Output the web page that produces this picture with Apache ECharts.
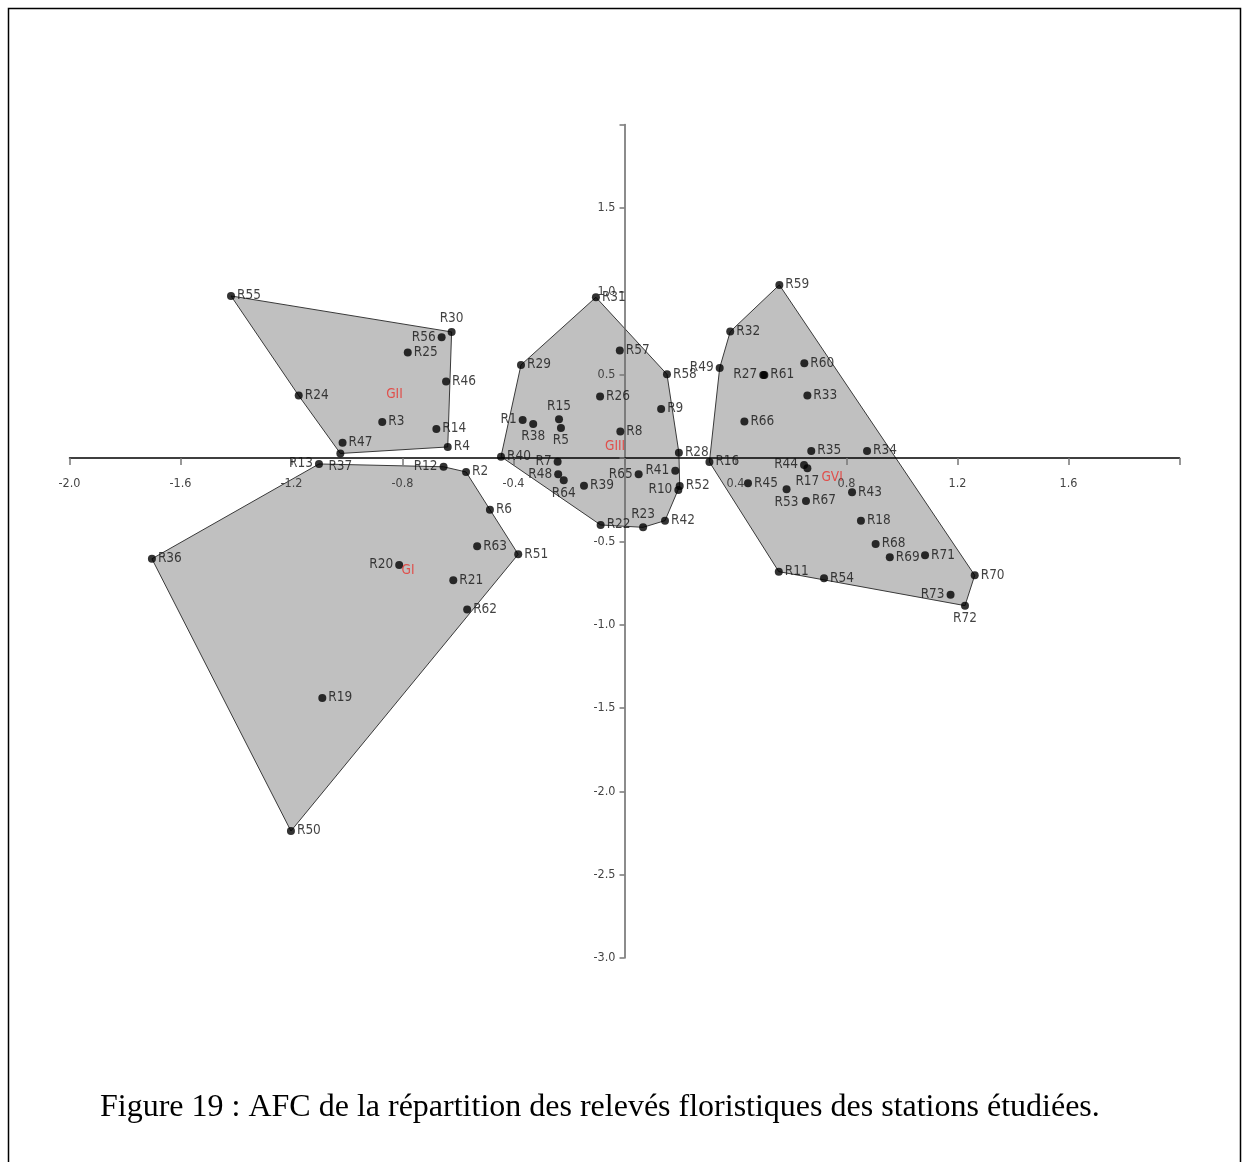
<!DOCTYPE html>
<html>
<head>
<meta charset="utf-8">
<script src="https://cdn.jsdelivr.net/npm/echarts@6/dist/echarts.min.js"></script>
<style>
html,body{margin:0;padding:0;background:#fff;}
#chart{width:1248px;height:1162px;}
</style>
</head>
<body>
<div id="chart"></div>
<script>
// ---------- DATA ----------
// Group I
const gINames = ['R13','R12','R2','R6','R63','R51','R20','R21','R62','R36','R19','R50'];
const gIX = [-1.101,-0.652,-0.571,-0.485,-0.531,-0.383,-0.812,-0.617,-0.567,-1.703,-1.089,-1.202];
const gIY = [-0.036,-0.053,-0.084,-0.310,-0.530,-0.578,-0.642,-0.734,-0.909,-0.605,-1.440,-2.238];
const gIHull = ['R13','R12','R2','R6','R51','R50','R36'];

// Group II
const gIINames = ['R55','R30','R56','R25','R46','R24','R3','R14','R4','R47','R37'];
const gIIX = [-1.418,-0.623,-0.659,-0.781,-0.643,-1.174,-0.873,-0.678,-0.637,-1.016,-1.024];
const gIIY = [0.972,0.756,0.724,0.632,0.458,0.374,0.216,0.174,0.066,0.092,0.027];
const gIIHull = ['R55','R30','R4','R37','R24'];

// Group III
const gIIINames = ['R31','R57','R29','R58','R26','R9','R1','R38','R15','R5','R8','R40','R28','R7','R48','R64','R39','R65','R41','R10','R52','R42','R23','R22'];
const gIIIX = [-0.103,-0.017,-0.373,0.153,-0.088,0.132,-0.367,-0.329,-0.236,-0.229,-0.015,-0.445,0.196,-0.241,-0.239,-0.219,-0.146,0.051,0.183,0.194,0.199,0.146,0.067,-0.086];
const gIIIY = [0.964,0.644,0.558,0.502,0.368,0.294,0.228,0.204,0.232,0.180,0.158,0.008,0.032,-0.022,-0.098,-0.134,-0.166,-0.098,-0.076,-0.192,-0.168,-0.376,-0.416,-0.402];
const gIIIHull = ['R31','R58','R28','R52','R42','R23','R22','R40','R29'];

// Group VI
const gVINames = ['R59','R32','R49','R27','R61','R60','R33','R66','R35','R34','R16','R44','R17','R45','R53','R67','R43','R18','R68','R69','R71','R70','R11','R54','R73','R72'];
const gVIX = [0.558,0.381,0.343,0.500,0.504,0.648,0.659,0.432,0.673,0.874,0.306,0.647,0.659,0.445,0.584,0.654,0.820,0.852,0.905,0.956,1.083,1.262,0.556,0.719,1.175,1.227];
const gVIY = [1.038,0.758,0.540,0.498,0.498,0.568,0.374,0.218,0.042,0.042,-0.024,-0.042,-0.062,-0.152,-0.188,-0.258,-0.206,-0.376,-0.516,-0.596,-0.584,-0.704,-0.682,-0.722,-0.820,-0.886];
const gVIHull = ['R59','R70','R72','R11','R16','R49','R32'];

// Group labels
const groupLabelNames = ['GI','GII','GIII','GVI'];
const groupLabelX = [-0.780,-0.829,-0.034,0.748];
const groupLabelY = [-0.678,0.378,0.066,-0.120];

// Axis ranges / ticks
const xMin = -2.0, xMax = 2.0, xStep = 0.4;
const yMin = -3.0, yMax = 2.0, yStep = 0.5;

const caption = 'Figure 19 : AFC de la répartition des relevés floristiques des stations étudiées.';

// ---------- STYLE ----------
const W = 1248, H = 1162;
const G = {left:69.5, right:68.5, top:124.6, bottom:204};
const narrow = "'Liberation Sans Narrow','DejaVu Sans Condensed',sans-serif";
// axes cross at zero: offsets derived from the grid box and the axis ranges
const gridW = W - G.left - G.right, gridH = H - G.top - G.bottom;
const xAxisOffset = -gridH * (0 - yMin) / (yMax - yMin);
const yAxisOffset = -gridW * (0 - xMin) / (xMax - xMin);

// label placement overrides (style only)
const labelPlacement = {
  R30:{position:'top', offset:[-12,2]},
  R56:{position:'left', offset:[0,1]},
  R13:{position:'left', offset:[0,1]},
  R12:{position:'left', offset:[0,0]},
  R20:{position:'left', offset:[0,-2]},
  R1:{position:'left', offset:[0,0]},
  R38:{position:'bottom', offset:[-12,0]},
  R15:{position:'top', offset:[-9,0]},
  R5:{position:'bottom', offset:[6,0]},
  R7:{position:'left', offset:[0,0]},
  R48:{position:'left', offset:[0,2]},
  R64:{position:'bottom', offset:[-10,-1]},
  R65:{position:'left', offset:[0,1]},
  R41:{position:'left', offset:[0,0]},
  R10:{position:'left', offset:[0,3]},
  R23:{position:'top', offset:[-12,1]},
  R49:{position:'left', offset:[0,0]},
  R27:{position:'left', offset:[0,0]},
  R44:{position:'left', offset:[0,0]},
  R17:{position:'bottom', offset:[-4,-1]},
  R53:{position:'bottom', offset:[-9,-1]},
  R72:{position:'bottom', offset:[-11,0]},
  R73:{position:'left', offset:[0,0]},
  R37:{position:'bottom', offset:[-7,-2]}
};

function makePoints(names, xs, ys){
  return names.map((n,i)=>{
    const item = {name:n, value:[xs[i], ys[i]]};
    if (labelPlacement[n]) item.label = Object.assign({distance:2}, labelPlacement[n]);
    return item;
  });
}
function lookupOf(names, xs, ys){
  const m = {};
  names.forEach((n,i)=>{ m[n] = [xs[i], ys[i]]; });
  return m;
}
function hullSeries(names, xs, ys, hull){
  const lk = lookupOf(names, xs, ys);
  return {
    type:'custom', coordinateSystem:'cartesian2d', silent:true, z:1, clip:false,
    data:[[xs[0], ys[0]]],
    renderItem:function(params, api){
      return {
        type:'polygon',
        shape:{points: hull.map(n => api.coord(lk[n]))},
        style:{fill:'#c0c0c0', stroke:'#3a3a3a', lineWidth:1}
      };
    }
  };
}
function scatterSeries(names, xs, ys){
  return {
    type:'scatter', z:4, symbolSize:8, itemStyle:{color:'#000'},
    data: makePoints(names, xs, ys),
    label:{show:true, formatter:'{b}', position:'right', distance:2, offset:[-1,4],
      color:'#111', fontSize:13.5, fontFamily:narrow},
    labelLayout:{hideOverlap:false}
  };
}

const chart = echarts.init(document.getElementById('chart'), null, {renderer:'canvas'});
const hideEdge = (v, lo, hi) => (Math.abs(v) < 1e-9 || Math.abs(v - hi) < 1e-9) ? '' : v.toFixed(1);

chart.setOption({
  animation:false,
  backgroundColor:'#fff',
  title:{
    text:caption, left:95, top:1087,
    textStyle:{fontFamily:"'Liberation Serif','Times New Roman',serif", fontSize:32, fontWeight:'normal', color:'#000'}
  },
  graphic:[{
    type:'rect', silent:true, z:100,
    shape:{x:8.5, y:8.5, width:1232, height:1175},
    style:{fill:'none', stroke:'#000', lineWidth:1.5}
  }],
  grid:{left:G.left, right:G.right, top:G.top, bottom:G.bottom, containLabel:false},
  xAxis:{
    type:'value', min:xMin, max:xMax, interval:xStep, position:'bottom', offset:xAxisOffset, z:3,
    axisLine:{onZero:false, lineStyle:{color:'#000', width:1.5}},
    axisTick:{show:true, length:7, lineStyle:{color:'#777', width:1.5}},
    axisLabel:{formatter:v=>hideEdge(v,xMin,xMax), margin:19, color:'#444', fontSize:12.5, fontFamily:narrow},
    splitLine:{show:false}
  },
  yAxis:{
    type:'value', min:yMin, max:yMax, interval:yStep, position:'left', offset:yAxisOffset, z:3,
    axisLine:{onZero:false, lineStyle:{color:'#666', width:1.5}},
    axisTick:{show:true, length:5, lineStyle:{color:'#777', width:1.5}},
    axisLabel:{formatter:v=>hideEdge(v,yMin,yMax), margin:9, color:'#444', fontSize:12.5, fontFamily:narrow},
    splitLine:{show:false}
  },
  series:[
    hullSeries(gINames, gIX, gIY, gIHull),
    hullSeries(gIINames, gIIX, gIIY, gIIHull),
    hullSeries(gIIINames, gIIIX, gIIIY, gIIIHull),
    hullSeries(gVINames, gVIX, gVIY, gVIHull),
    scatterSeries(gINames, gIX, gIY),
    scatterSeries(gIINames, gIIX, gIIY),
    scatterSeries(gIIINames, gIIIX, gIIIY),
    scatterSeries(gVINames, gVIX, gVIY),
    {
      type:'scatter', z:5, symbolSize:0, silent:true,
      data: groupLabelNames.map((n,i)=>({name:n, value:[groupLabelX[i], groupLabelY[i]]})),
      label:{show:true, formatter:'{b}', position:'inside', color:'#e8322d', fontSize:13.5, fontFamily:narrow}
    }
  ]
});
</script>
</body>
</html>
